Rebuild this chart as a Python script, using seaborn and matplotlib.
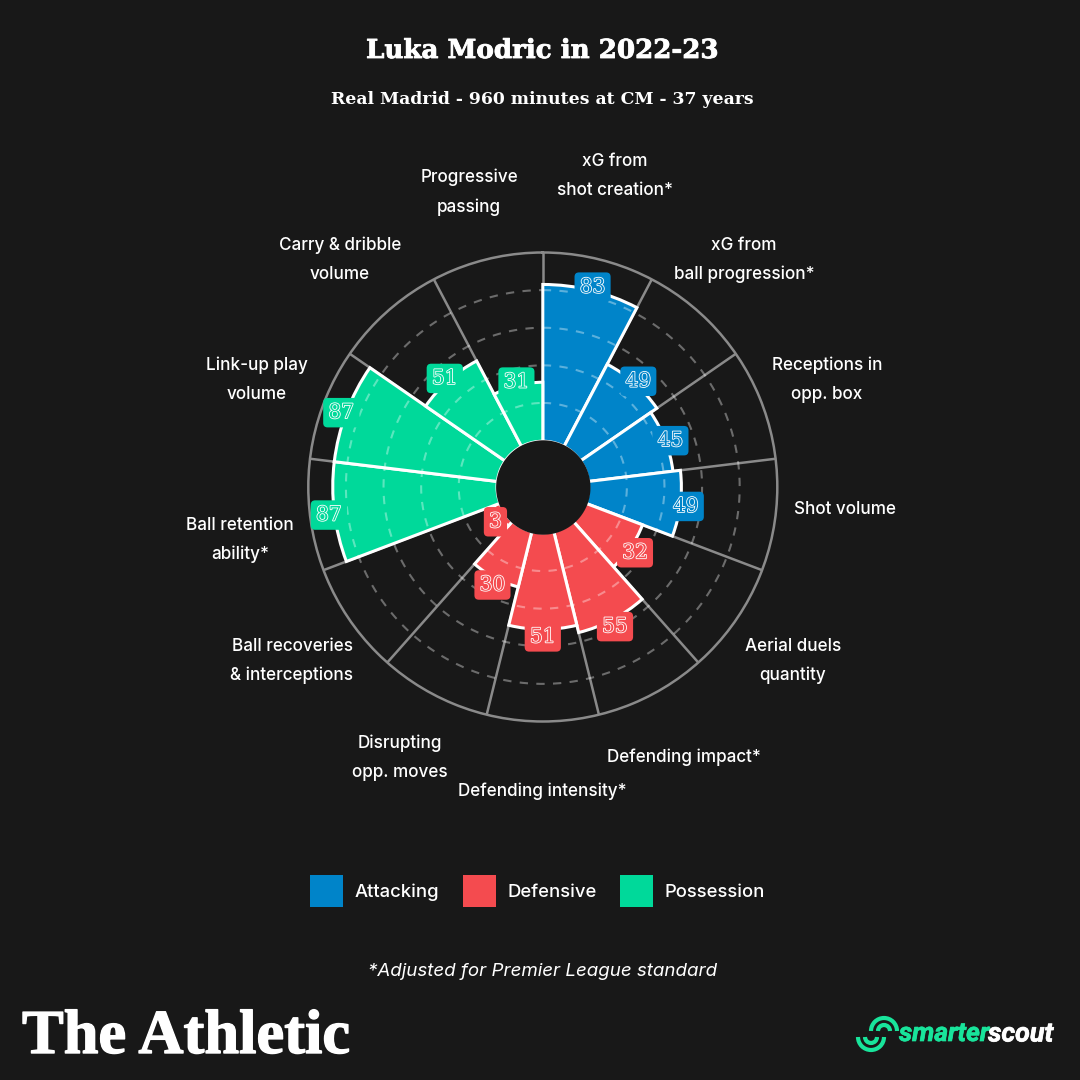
import numpy as np
import pandas as pd
import seaborn as sns
import matplotlib
matplotlib.use("Agg")
import matplotlib.pyplot as plt
import matplotlib.patheffects as pe
from matplotlib.patches import Arc, Patch

# ---------- data ----------
categories = ["xG from\nshot creation*", "xG from\nball progression*", "Receptions in\nopp. box",
              "Shot volume", "Aerial duels\nquantity", "Defending impact*", "Defending intensity*",
              "Disrupting\nopp. moves", "Ball recoveries\n& interceptions", "Ball retention\nability*",
              "Link-up play\nvolume", "Carry & dribble\nvolume", "Progressive\npassing"]
values = [83, 49, 45, 49, 32, 55, 51, 30, 3, 87, 87, 51, 31]
groups = ["Attacking"] * 4 + ["Defensive"] * 5 + ["Possession"] * 4
group_names = ["Attacking", "Defensive", "Possession"]
ring_ticks = [20, 40, 60, 80]

# ---------- style ----------
BG = "#181818"
palette = {"Attacking": "#0084C9", "Defensive": "#F44B4F", "Possession": "#00D99A"}
GRID = "#8a8a8a"
sns.set_theme(style="dark", rc={"figure.facecolor": BG, "axes.facecolor": BG, "savefig.facecolor": BG})
plt.rcParams["font.family"] = ["Inter", "DejaVu Sans"]

fig = plt.figure(figsize=(10.8, 10.8), dpi=100, facecolor=BG)

# centre (542.8, 487), outer radius 234.5 px
CX, CY, R = 542.8, 487.0, 234.5
ax = fig.add_axes([(CX - R) / 1080, (1080 - CY - R) / 1080, 2 * R / 1080, 2 * R / 1080], projection="polar")
ax.set_facecolor(BG)
ax.set_theta_zero_location("N")
ax.set_theta_direction(-1)

n = len(categories)
step = 2 * np.pi / n
theta = (np.arange(n) + 0.5) * step
df = pd.DataFrame({"theta": theta, "value": values, "group": groups, "category": categories})

sns.barplot(data=df, x="theta", y="value", hue="group", palette=palette, hue_order=group_names,
            native_scale=True, dodge=False, width=1.0, legend=False, ax=ax,
            edgecolor="white", linewidth=2.2, saturation=1, zorder=2, errorbar=None)

RMIN = -24.7
# run the bars on into the hole so that no inner edge shows on its rim
for bar in ax.patches:
    bar.set_height(bar.get_height() + 10)
    bar.set_y(bar.get_y() - 10)

ax.set_xlabel("")
ax.set_ylabel("")
ax.set_xticks(np.arange(n) * step)
ax.set_xticklabels([])
ax.set_yticks([])
ax.grid(False)
ax.xaxis.grid(True, color=GRID, lw=1.8, zorder=1)
ax.set_axisbelow(True)
ax.spines["polar"].set_color(GRID)
ax.spines["polar"].set_linewidth(1.8)
ax.spines["inner"].set_visible(False)
ax.spines["start"].set_visible(False)
ax.spines["end"].set_visible(False)

circle = np.linspace(0, 2 * np.pi, 400)
for r in ring_ticks:
    ax.plot(circle, np.full_like(circle, r), color="white", alpha=0.36, lw=1.5,
            dashes=(4, 4), zorder=3)

ax.fill_between(circle, RMIN, 0.4, color=BG, lw=0, zorder=4, clip_on=False)
ax.set_xlim(0, 2 * np.pi)
ax.set_rorigin(RMIN)
ax.set_rlim(0, 100)

# value tags sitting on the bar ends
for t, v, g in zip(theta, values, groups):
    ax.annotate(str(v), xy=(t, v + 2.9), xytext=(0, -1.5), textcoords="offset points",
                ha="center", va="center", fontsize=14.5, family="DejaVu Serif",
                color=palette[g], zorder=6, annotation_clip=False,
                bbox=dict(boxstyle="round,pad=0.26,rounding_size=0.22", fc=palette[g], ec="none"),
                path_effects=[pe.Stroke(linewidth=1.2, foreground="white"), pe.Normal()])

# ---------- overlay in pixel coordinates ----------
ov = fig.add_axes([0, 0, 1, 1], facecolor="none")
ov.set_xlim(0, 1080)
ov.set_ylim(1080, 0)
ov.axis("off")

label_xy = [(615, 176), (744, 260), (827, 380), (845, 509), (793, 661), (684, 757), (542, 791),
            (400, 758), (292, 661), (240, 540), (257, 380), (340, 260), (469, 192)]
for (x, y), c in zip(label_xy, categories):
    ov.text(x, y, c, color="white", fontsize=12.3, weight="medium", ha="center", va="center",
            linespacing=1.91, multialignment="center")

ov.text(542.5, 50.5, "Luka Modric in 2022-23", color="white", fontsize=18.8, family="DejaVu Serif",
        weight="bold", ha="center", va="center",
        path_effects=[pe.Stroke(linewidth=0.6, foreground="white"), pe.Normal()])
ov.text(542, 99, "Real Madrid - 960 minutes at CM - 37 years", color="white", fontsize=12.4,
        family="DejaVu Serif", weight="bold", ha="center", va="center")
ov.text(543, 971, "*Adjusted for Premier League standard", color="white", fontsize=13.5,
        style="italic", ha="center", va="center")

# legend
handles = [Patch(facecolor=palette[g], edgecolor="none", label=g) for g in group_names]
leg = fig.legend(handles=handles, loc="center", bbox_to_anchor=(537.5 / 1080, 1 - 891 / 1080), ncols=3,
                 frameon=False, prop={"size": 13.3, "weight": "medium"}, handlelength=1.79, handleheight=2.35,
                 handletextpad=0.6, columnspacing=1.3, labelcolor="white", borderpad=0)

# logos as text
ov.text(22, 1038, "The Athletic", color="white", fontsize=45, family="Liberation Serif", weight="bold",
        ha="left", va="center", path_effects=[pe.Stroke(linewidth=1.0, foreground="white"), pe.Normal()])
GREEN = "#18E49B"
ov.text(899, 1034, "smarter", color=GREEN, fontsize=19, family="Roboto", weight="bold",
        style="italic", ha="left", va="center",
        path_effects=[pe.Stroke(linewidth=0.5, foreground=GREEN), pe.Normal()])
ov.text(988, 1034, "scout", color="white", fontsize=19.4, family="Roboto", weight="bold",
        style="italic", ha="left", va="center",
        path_effects=[pe.Stroke(linewidth=0.5, foreground="white"), pe.Normal()])
for (cx, cy, t0, t9) in [(884, 1031, 180, 360), (871, 1037, 0, 180)]:
    for r in (13, 6):
        ov.add_patch(Arc((cx, cy), 2 * r, 2 * r, theta1=t0, theta2=t9, color=GREEN, lw=3.0))

fig.savefig("out.png", dpi=100, facecolor=BG)
